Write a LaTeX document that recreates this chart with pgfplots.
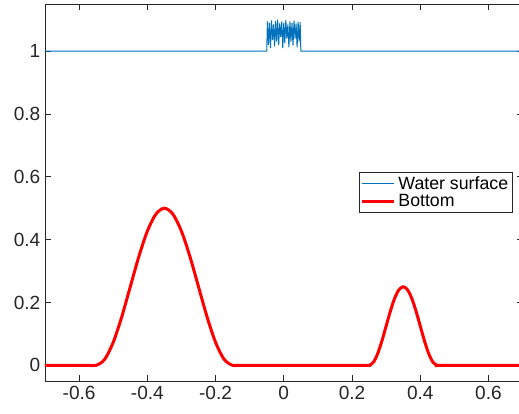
\documentclass[border=0pt]{standalone}
\usepackage{fontspec}
\setmainfont{Liberation Sans}
\usepackage{pgfplots}
\pgfplotsset{compat=1.18}
\definecolor{mblue}{rgb}{0,0.447,0.741}
\definecolor{axgray}{rgb}{0.15,0.15,0.15}
\begin{document}
\begin{tikzpicture}
\begin{axis}[
  scale only axis,
  width=358.2pt, height=282.75pt,
  xmin=-0.7, xmax=0.7,
  ymin=-0.05, ymax=1.15,
  xtick={-0.6,-0.4,...,0.61},
  ytick={0,0.2,...,1.01},
  tick align=inside,
  major tick length=4.5pt,
  axis line style={axgray, line width=0.6pt},
  every tick/.style={axgray, line width=0.6pt},
  tick label style={font=\fontsize{14.3}{16}\selectfont, text=axgray},
  /pgf/number format/assume math mode=true,
  legend style={at={(rel axis cs:0.657,0.554)}, anchor=north west,
    draw=axgray, line width=0.6pt, font=\fontsize{13.3}{15}\selectfont,
    inner sep=1pt, row sep=-2pt},
  legend cell align=left,
  legend image code/.code={\draw[#1] (0cm,0cm) -- (0.85cm,0cm);},
]
\coordinate (bbsw) at (rel axis cs:-0.0942,-0.0849);
\coordinate (bbne) at (rel axis cs:0.99246,1.0106);
% water surface: flat at 1 with a noisy hump in [-0.05,0.05]
\addplot[mblue, line width=0.75pt] coordinates {
 (-0.7,1) (-0.05,1)
 (-0.048,1.095) (-0.045,1.020) (-0.042,1.090) (-0.039,1.010) (-0.036,1.098)
 (-0.033,1.035) (-0.030,1.085) (-0.027,1.015) (-0.024,1.096) (-0.021,1.030)
 (-0.018,1.100) (-0.015,1.020) (-0.012,1.088) (-0.009,1.045) (-0.006,1.094)
 (-0.003,1.010) (0.000,1.090) (0.003,1.025) (0.006,1.099) (0.009,1.040)
 (0.012,1.085) (0.015,1.012) (0.018,1.095) (0.021,1.030) (0.024,1.090)
 (0.027,1.018) (0.030,1.097) (0.033,1.040) (0.036,1.088) (0.039,1.012)
 (0.042,1.094) (0.045,1.030) (0.048,1.092)
 (0.05,1) (0.7,1)
};
\addlegendentry{Water surface}
% bottom topography
\addplot[red, line width=2.25pt, smooth, tension=0.5] coordinates {
 (-0.7,0) (-0.6,0) (-0.575,0) (-0.55,0)
 (-0.525,0.0190) (-0.5,0.0732) (-0.475,0.1543) (-0.45,0.25)
 (-0.425,0.3457) (-0.4,0.4268) (-0.375,0.4810) (-0.35,0.5)
 (-0.325,0.4810) (-0.3,0.4268) (-0.275,0.3457) (-0.25,0.25)
 (-0.225,0.1543) (-0.2,0.0732) (-0.175,0.0190) (-0.15,0)
 (-0.125,0) (0,0) (0.2375,0) (0.25,0)
 (0.2625,0.0095) (0.275,0.0366) (0.2875,0.0772) (0.3,0.125)
 (0.3125,0.1728) (0.325,0.2134) (0.3375,0.2405) (0.35,0.25)
 (0.3625,0.2405) (0.375,0.2134) (0.3875,0.1728) (0.4,0.125)
 (0.4125,0.0772) (0.425,0.0366) (0.4375,0.0095) (0.45,0)
 (0.4625,0) (0.6,0) (0.7,0)
};
\addlegendentry{Bottom}
\end{axis}
\pgfresetboundingbox
\useasboundingbox (bbsw) rectangle (bbne);
\end{tikzpicture}
\end{document}
